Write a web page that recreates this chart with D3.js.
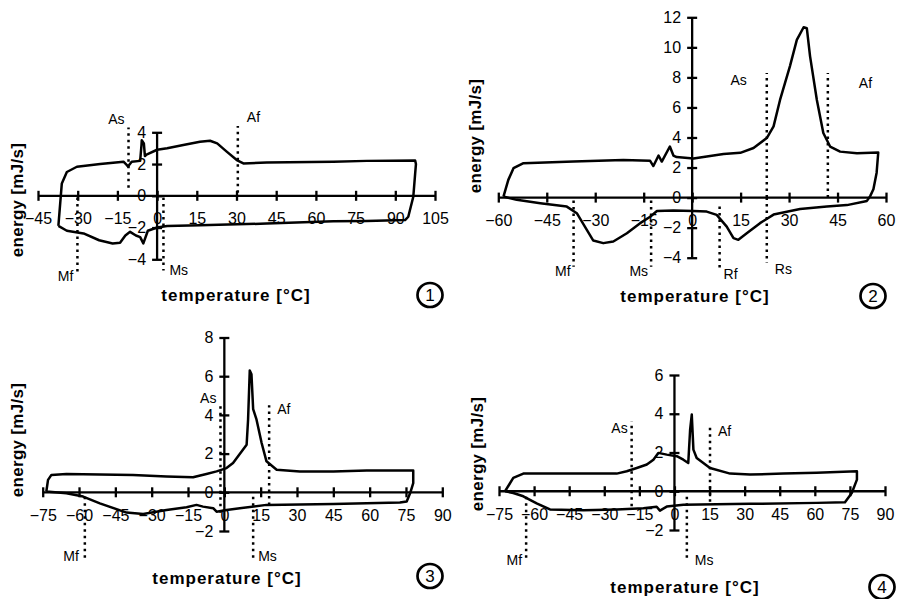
<!DOCTYPE html>
<html>
<head>
<meta charset="utf-8">
<script src="https://cdn.jsdelivr.net/npm/d3@7"></script>
<style>
  body { margin: 0; background: #fff; }
  svg { font-family: "Liberation Sans", Arial, sans-serif; }
  .tick text { font-size: 16px; fill: #000; }
  .tick line, .domain { stroke: #000; stroke-width: 2.3; }
</style>
</head>
<body>
<svg id="chart" width="898" height="599"></svg>
<script>
// ---- data (temperature in °C, energy in mJ/s)

// panel 1
const heat1T = [-37.3, -36.0, -34.1, -30.3, -21.5, -12.7, -11.5, -11.0, -9.6, -6.4, -5.9, -5.8, -5.0, -4.6, -4.0, 0, 3.8, 9.9, 16.2, 20, 22.7, 26.3, 30.1, 32.6, 41.4, 66.6, 79.2, 97.5, 97.8, 97.5, 96.8, 94.9, 93.7]
const heat1E = [-1.9, 0.78, 1.5, 1.83, 2.0, 2.15, 1.95, 1.85, 2.15, 2.2, 3.2, 3.5, 3.3, 2.5, 2.6, 2.9, 3.0, 3.2, 3.4, 3.47, 3.3, 2.78, 2.25, 2.04, 2.1, 2.15, 2.2, 2.22, 2.0, 1.4, -0.06, -1.32, -1.53]
const cool1T = [93.7, 79.2, 66.6, 41.4, 16.2, 3.8, 0, -3.5, -5.2, -6.4, -8, -10.2, -12, -14, -16.8, -21.9, -27.8, -34.1, -37.3]
const cool1E = [-1.53, -1.58, -1.6, -1.75, -1.85, -1.9, -2.0, -2.2, -3.0, -2.6, -2.5, -2.27, -2.5, -2.96, -3.0, -2.8, -2.37, -2.2, -1.9]

// panel 2
const heat2T = [-58.4, -56.9, -55.3, -52.2, -36.7, -21.3, -13, -12, -10.4, -9.4, -6.9, -5.8, -4.8, 0.4, 9.7, 14.9, 19, 23.1, 25.2, 27.2, 30.3, 32.4, 34.5, 35.5, 36.5, 38.6, 40.6, 42.7, 45.8, 51, 57.6, 57.1, 56.1, 55.1, 54.1]
const heat2E = [0.07, 1.18, 1.96, 2.29, 2.4, 2.5, 2.45, 2.1, 2.8, 2.4, 3.4, 2.8, 2.7, 2.6, 2.9, 2.98, 3.3, 3.96, 4.74, 6.5, 8.77, 10.5, 11.34, 11.27, 9.4, 6.5, 4.3, 3.4, 3.06, 2.95, 3.0, 1.66, 0.55, 0.1, -0.22]
const cool2T = [47.9, 41.7, 33.4, 25.2, 21, 16.9, 14.3, 12.8, 10.7, 7.6, 4.5, 0.4, -5.8, -10.9, -13, -16.1, -20.2, -24.4, -27.5, -30.6, -32.6, -35.7, -38.8, -47, -54.3, -58.4]
const cool2E = [-0.5, -0.6, -0.76, -1.13, -1.7, -2.37, -2.81, -2.7, -1.93, -1.15, -0.93, -0.89, -0.86, -0.89, -1.27, -1.7, -2.37, -2.92, -3.03, -2.86, -2.15, -1.04, -0.6, -0.38, -0.15, 0.07]

// panel 3
const heat3T = [-73.5, -72.8, -71.4, -65.2, -37.7, -23.9, -12.9, -7.4, -3.2, 0.9, 3.6, 9.2, 9.8, 10.5, 11.2, 11.9, 13.3, 15.4, 17.4, 21.6, 31.2, 45, 58.8, 78, 78, 76.7, 75.3]
const heat3E = [0.04, 0.64, 0.9, 0.95, 0.9, 0.82, 0.78, 0.95, 1.08, 1.25, 1.51, 2.46, 3.75, 6.3, 6.1, 4.3, 3.75, 2.55, 1.6, 1.17, 1.08, 1.08, 1.13, 1.13, 0.48, -0.05, -0.47]
const cool3T = [72.5, 45, 17.4, 6.4, 0.9, -3.2, -4.6, -8.8, -11.5, -15.6, -23.9, -33.5, -40.4, -51.4, -58.3, -65.2, -73.5]
const cool3E = [-0.53, -0.6, -0.65, -0.82, -0.91, -1.0, -0.82, -0.74, -0.65, -0.77, -0.91, -1.12, -1.05, -0.57, -0.22, -0.05, 0.04]

// panel 4
const heat4T = [-72.4, -68.9, -64.6, -53.2, -38.9, -24.7, -20.4, -16.1, -11.8, -9, -6.9, -3.3, 1, 3.8, 5.9, 6.7, 7.4, 8.1, 9.5, 15.2, 23.8, 32.3, 46.6, 60.8, 78, 78, 75.8, 72.9]
const heat4E = [0, 0.69, 0.91, 0.91, 0.91, 0.91, 1.03, 1.2, 1.38, 1.63, 1.98, 1.89, 1.81, 1.63, 1.46, 3.18, 3.96, 2.15, 1.72, 1.2, 0.91, 0.86, 0.91, 0.95, 1.03, 0.6, -0.09, -0.57]
const cool4T = [60.8, 32.3, 3.8, -3.3, -6.2, -7.6, -13.3, -24.7, -38.9, -53.2, -58.9, -64.6, -68.9, -72.4]
const cool4E = [-0.6, -0.65, -0.7, -0.79, -1.0, -0.8, -0.88, -0.94, -0.98, -0.94, -0.63, -0.26, -0.09, 0]

// tick values
const xTicks1 = [-45, -30, -15, 0, 15, 30, 45, 60, 75, 90, 105]
const yTicks1 = [-4, -2, 0, 2, 4]
const xTicks2 = [-60, -45, -30, -15, 0, 15, 30, 45, 60]
const yTicks2 = [-4, -2, 0, 2, 4, 6, 8, 10, 12]
const xTicks34 = [-75, -60, -45, -30, -15, 0, 15, 30, 45, 60, 75, 90]
const yTicks3 = [-2, 0, 2, 4, 6, 8]
const yTicks4 = [-2, 0, 2, 4, 6]

// transformation temperatures: name, temperature, energy range of the dotted line
const marks1Name = ["As", "Af", "Mf", "Ms"]
const marks1T = [-10.8, 30.5, -30.1, 2.4]
const marks1E = [[0.5, 4.3], [0.2, 4.4], [-0.1, -4.9], [-0.1, -4.7]]

const marks2Name = ["As", "Af", "Mf", "Ms", "Rf", "Rs"]
const marks2T = [23.1, 42, -36.7, -12.7, 8.5, 23.1]
const marks2E = [[0, 8.3], [0, 8.3], [-0.2, -4.6], [-0.2, -4.6], [-0.6, -4.8], [0, -4.35]]

const marks3Name = ["As", "Af", "Mf", "Ms"]
const marks3T = [-1.6, 18.5, -57.6, 11.9]
const marks3E = [[-1.06, 4.5], [-0.65, 4.5], [-0.23, -3.5], [-0.23, -3.5]]

const marks4Name = ["As", "Af", "Mf", "Ms"]
const marks4T = [-18.3, 15.2, -63.4, 5.3]
const marks4E = [[-0.78, 3.6], [-0.54, 3.43], [-0.28, -3.54], [-0.28, -3.54]]

// ---- layout of each panel (pixels)
const panels = [
  { heatT: heat1T, heatE: heat1E, coolT: cool1T, coolE: cool1E,
    xTicks: xTicks1, yTicks: yTicks1, mNames: marks1Name, mT: marks1T, mE: marks1E,
    xRange: [38, 435], yRange: [259.3, 132.3],
    labelPos: [["end", -4, -4], ["start", 9, -4], ["end", -4, 7], ["start", 6, 5]],
    yTitle: [17, 200], xTitle: [236, 295], badge: [430, 295], num: "1" },
  { heatT: heat2T, heatE: heat2E, coolT: cool2T, coolE: cool2E,
    xTicks: xTicks2, yTicks: yTicks2, mNames: marks2Name, mT: marks2T, mE: marks2E,
    xRange: [498.3, 886], yRange: [257.7, 17.3],
    labelPos: [["end", -20, 12], ["start", 31, 15], ["end", -3, 9], ["end", -3, 9], ["start", 4, 9], ["start", 8, 11]],
    yTitle: [475, 136], xTitle: [695, 296], badge: [873, 296], num: "2" },
  { heatT: heat3T, heatE: heat3E, coolT: cool3T, coolE: cool3E,
    xTicks: xTicks34, yTicks: yTicks3, mNames: marks3Name, mT: marks3T, mE: marks3E,
    xRange: [42.7, 442.3], yRange: [531, 337.5],
    labelPos: [["end", -4, -2], ["start", 8, 9], ["end", -6, 1], ["start", 5, 1]],
    yTitle: [17, 440], xTitle: [227, 578], badge: [430, 576], num: "3" },
  { heatT: heat4T, heatE: heat4E, coolT: cool4T, coolE: cool4E,
    xTicks: xTicks34, yTicks: yTicks4, mNames: marks4Name, mT: marks4T, mE: marks4E,
    xRange: [499, 885], yRange: [530, 375],
    labelPos: [["end", -4, 11], ["start", 8, 11], ["end", -4, 5], ["start", 8, 5]],
    yTitle: [477, 454], xTitle: [685, 587], badge: [882, 587], num: "4" }
]

const svg = d3.select("#chart")

panels.forEach(p => {
  let x = d3.scaleLinear().domain(d3.extent(p.xTicks)).range(p.xRange)
  let y = d3.scaleLinear().domain(d3.extent(p.yTicks)).range(p.yRange)
  let g = svg.append("g")

  // axes cross at the origin, ticks cross the axis line
  //
  g.append("g")
    .attr("transform", "translate(0," + y(0) + ")")
    .call(d3.axisBottom(x).tickValues(p.xTicks).tickSizeOuter(0).tickSize(5).tickPadding(12).tickFormat(d3.format("d")))
    .call(a => a.selectAll(".tick line").attr("y1", -5))
    .call(a => a.select(".domain").attr("d", "M" + p.xRange[0] + ",0H" + p.xRange[1]))

  g.append("g")
    .attr("transform", "translate(" + x(0) + ",0)")
    .call(d3.axisLeft(y).tickValues(p.yTicks).tickSizeOuter(0).tickSize(5).tickPadding(6).tickFormat(d3.format("d")))
    .call(a => a.selectAll(".tick line").attr("x1", 5))
    .call(a => a.select(".domain").attr("d", "M0," + p.yRange[0] + "V" + p.yRange[1]))

  g.selectAll(".tick text").style("font-family", "'Liberation Sans', Arial, sans-serif")

  // the loop: heating branch then cooling branch
  //
  let pts = p.heatT.map((t, i) => [t, p.heatE[i]])
    .concat(p.coolT.map((t, i) => [t, p.coolE[i]]))
  let line = d3.line().x(d => x(d[0])).y(d => y(d[1])).curve(d3.curveLinear)
  g.append("path")
    .datum(pts)
    .attr("d", line)
    .attr("fill", "none")
    .attr("stroke", "#000")
    .attr("stroke-width", 2.5)
    .attr("stroke-linejoin", "round")

  // dotted transformation markers
  //
  p.mNames.forEach((name, i) => {
    let tx = x(p.mT[i])
    let e = p.mE[i]
    g.append("line")
      .attr("x1", tx).attr("x2", tx)
      .attr("y1", y(e[0])).attr("y2", y(e[1]))
      .attr("stroke", "#000")
      .attr("stroke-width", 2.5)
      .attr("stroke-dasharray", "2.5,4")
    let top = Math.min(y(e[0]), y(e[1]))
    let bottom = Math.max(y(e[0]), y(e[1]))
    let lp = p.labelPos[i]
    let upper = e[0] + e[1] > 0
    g.append("text")
      .attr("x", tx + lp[1])
      .attr("y", (upper ? top : bottom) + lp[2])
      .attr("text-anchor", lp[0])
      .attr("font-size", 14)
      .text(name)
  })

  // axis titles
  //
  g.append("text")
    .attr("transform", "translate(" + p.yTitle[0] + "," + p.yTitle[1] + ") rotate(-90)")
    .attr("text-anchor", "middle")
    .attr("dy", "0.35em")
    .attr("font-size", 17)
    .attr("font-weight", "bold")
    .attr("letter-spacing", 0.3)
    .text("energy [mJ/s]")

  g.append("text")
    .attr("x", p.xTitle[0])
    .attr("y", p.xTitle[1])
    .attr("text-anchor", "middle")
    .attr("dy", "0.35em")
    .attr("font-size", 17)
    .attr("font-weight", "bold")
    .attr("letter-spacing", 1)
    .text("temperature [°C]")

  // circled panel number
  //
  g.append("ellipse")
    .attr("cx", p.badge[0]).attr("cy", p.badge[1])
    .attr("rx", 12.5).attr("ry", 12)
    .attr("fill", "none")
    .attr("stroke", "#000")
    .attr("stroke-width", 2.7)
  g.append("text")
    .attr("x", p.badge[0]).attr("y", p.badge[1])
    .attr("text-anchor", "middle")
    .attr("dy", "0.36em")
    .attr("font-size", 17)
    .text(p.num)
})
</script>
</body>
</html>
